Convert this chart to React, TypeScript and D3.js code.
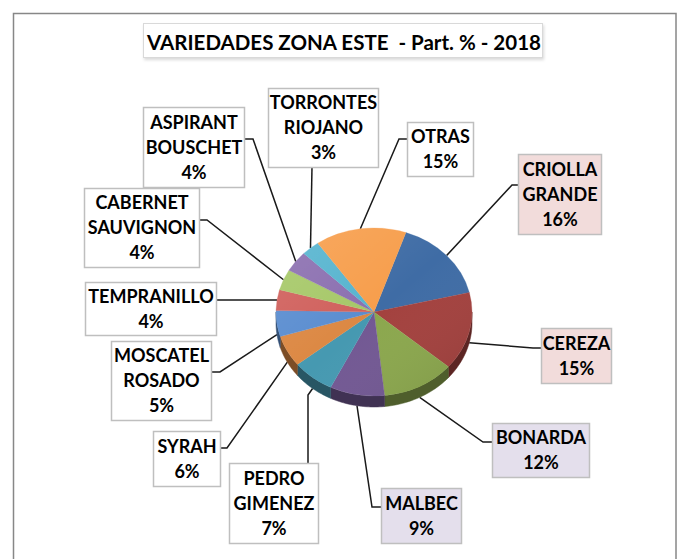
import React from "react";
import * as d3 from "d3";

const categories = [
  "CRIOLLA GRANDE",
  "CEREZA",
  "BONARDA",
  "MALBEC",
  "PEDRO GIMENEZ",
  "SYRAH",
  "MOSCATEL ROSADO",
  "TEMPRANILLO",
  "CABERNET SAUVIGNON",
  "ASPIRANT BOUSCHET",
  "TORRONTES RIOJANO",
  "OTRAS",
];
const shares = [16, 15, 12, 9, 7, 6, 5, 4, 4, 4, 3, 15];
const title = "VARIEDADES ZONA ESTE  - Part. % - 2018";

const topColors = [
  "#3F6CA5", "#A3413E", "#8BA74D", "#725893", "#4699B1", "#DC8843",
  "#5A8DD0", "#D0605C", "#A6C868", "#8B6FB0", "#56B4CF", "#F79E4C",
];

// label box layout (x, y, w, h, fill, elbow point, end point)
const boxes = [
  { x: 518, y: 154, w: 83, h: 80, fill: "#F2DCDB", ex: 512, ey: 185, tx: 518, ty: 185 },
  { x: 541, y: 328, w: 70, h: 55, fill: "#F2DCDB", ex: 533, ey: 348, tx: 541, ty: 348 },
  { x: 492, y: 423, w: 97, h: 54, fill: "#E4DFEC", ex: 483, ey: 442, tx: 492, ty: 442 },
  { x: 381, y: 488, w: 80, h: 55, fill: "#E4DFEC", ex: 372, ey: 507, tx: 381, ty: 507 },
  { x: 229, y: 463, w: 89, h: 80, fill: "#FFFFFF", ex: 308, ey: 395, tx: 308, ty: 463 },
  { x: 153, y: 431, w: 67, h: 55, fill: "#FFFFFF", ex: 227, ey: 448, tx: 220, ty: 448 },
  { x: 111, y: 341, w: 100, h: 79, fill: "#FFFFFF", ex: 220, ey: 372, tx: 211, ty: 372 },
  { x: 85, y: 282, w: 131, h: 53, fill: "#FFFFFF", ex: 218, ey: 300, tx: 216, ty: 300 },
  { x: 84, y: 188, w: 115, h: 79, fill: "#FFFFFF", ex: 207, ey: 220, tx: 199, ty: 220 },
  { x: 143, y: 107, w: 101, h: 80, fill: "#FFFFFF", ex: 253, ey: 139, tx: 244, ty: 139 },
  { x: 268, y: 88, w: 110, h: 79, fill: "#FFFFFF", ex: 312, ey: 167, tx: 312, ty: 167 },
  { x: 407, y: 122, w: 66, h: 54, fill: "#FFFFFF", ex: 399, ey: 139, tx: 407, ty: 139 },
];

const W = 678;
const H = 559;
const cx = 374;
const cy = 312;
const rx = 98;
const ry = 84;
const depth = 11;
const FONT = "Lato, 'Open Sans', sans-serif";

function pt(a: number, dy = 0): [number, number] {
  return [cx + rx * Math.sin(a), cy - ry * Math.cos(a) + dy];
}

export default function App() {
  const pie = d3
    .pie<number>()
    .sort(null)
    .startAngle((19 * Math.PI) / 180)
    .endAngle((19 * Math.PI) / 180 + 2 * Math.PI);
  const arcs = pie(shares);
  const arcGen = d3.arc<d3.PieArcDatum<number>>().innerRadius(0).outerRadius(rx);
  const line = d3.line();

  const sides = arcs.map((a, i) => {
    const s = Math.max(a.startAngle, Math.PI / 2);
    const e = Math.min(a.endAngle, (3 * Math.PI) / 2);
    if (e <= s) return null;
    const n = 24;
    const top: [number, number][] = d3.range(n + 1).map((k) => pt(s + ((e - s) * k) / n));
    const bot: [number, number][] = d3.range(n + 1).map((k) => pt(e - ((e - s) * k) / n, depth));
    const d = line([...top, ...bot]) + "Z";
    const c = d3.color(topColors[i])!.darker(1.6).formatHex();
    return <path key={"s" + i} d={d} fill={c} stroke={c} strokeWidth={0.5} />;
  });

  return (
    <svg
      width={W}
      height={H}
      style={{ position: "absolute", left: 0, top: 0, background: "#fff" }}
      fontFamily={FONT}
    >
      <defs>
        <linearGradient id="shade" x1="0" y1="0" x2="1" y2="1">
          <stop offset="0" stopColor="#fff" stopOpacity={0.12} />
          <stop offset="0.5" stopColor="#fff" stopOpacity={0} />
          <stop offset="1" stopColor="#000" stopOpacity={0.1} />
        </linearGradient>
        <filter id="sh" x="-10%" y="-10%" width="120%" height="140%">
          <feDropShadow dx="1" dy="2" stdDeviation="1.5" floodColor="#000" floodOpacity="0.15" />
        </filter>
      </defs>
      <rect x={13.5} y={13.5} width={662.5} height={H + 20} fill="#fff" stroke="#878787" strokeWidth={1.5} />

      {/* title */}
      <rect x={143.5} y={23.5} width={399} height={34} fill="#fff" stroke="#D9D9D9" strokeWidth={1} filter="url(#sh)" />
      <text
        x={344}
        y={50}
        textAnchor="middle"
        fontSize={20.5}
        fontWeight="bold"
        fill="#000"
        style={{ whiteSpace: "pre" }}
      >
        {title}
      </text>

      {/* leader lines */}
      {arcs.map((a, i) => {
        const mid = (a.startAngle + a.endAngle) / 2;
        const c = Math.cos(mid);
        const p = pt(mid, c < 0 ? depth : 0);
        const b = boxes[i];
        return (
          <polyline
            key={"l" + i}
            points={`${p[0]},${p[1]} ${b.ex},${b.ey} ${b.tx},${b.ty}`}
            fill="none"
            stroke="#1a1a1a"
            strokeWidth={1.5}
          />
        );
      })}

      {/* pie */}
      {sides}
      <g transform={`translate(${cx},${cy}) scale(1,${ry / rx})`}>
        {arcs.map((a, i) => (
          <path key={"t" + i} d={arcGen(a) || ""} fill={topColors[i]} stroke={topColors[i]} strokeWidth={0.3} />
        ))}
        <circle r={rx} fill="url(#shade)" />
      </g>

      {/* labels */}
      {arcs.map((a, i) => {
        const b = boxes[i];
        const lines = [...categories[i].split(" "), `${shares[i]}%`];
        const mid = b.y + b.h / 2;
        return (
          <g key={"b" + i}>
            <rect x={b.x + 0.5} y={b.y + 0.5} width={b.w} height={b.h} fill={b.fill} stroke="#BFBFBF" strokeWidth={1.5} />
            {lines.map((t, k) => (
              <text
                key={k}
                x={b.x + b.w / 2 + 0.5}
                y={mid + (k - (lines.length - 1) / 2) * 25 + 6.5}
                textAnchor="middle"
                fontSize={18}
                fontWeight="bold"
                fill="#000"
              >
                {t}
              </text>
            ))}
          </g>
        );
      })}
    </svg>
  );
}
